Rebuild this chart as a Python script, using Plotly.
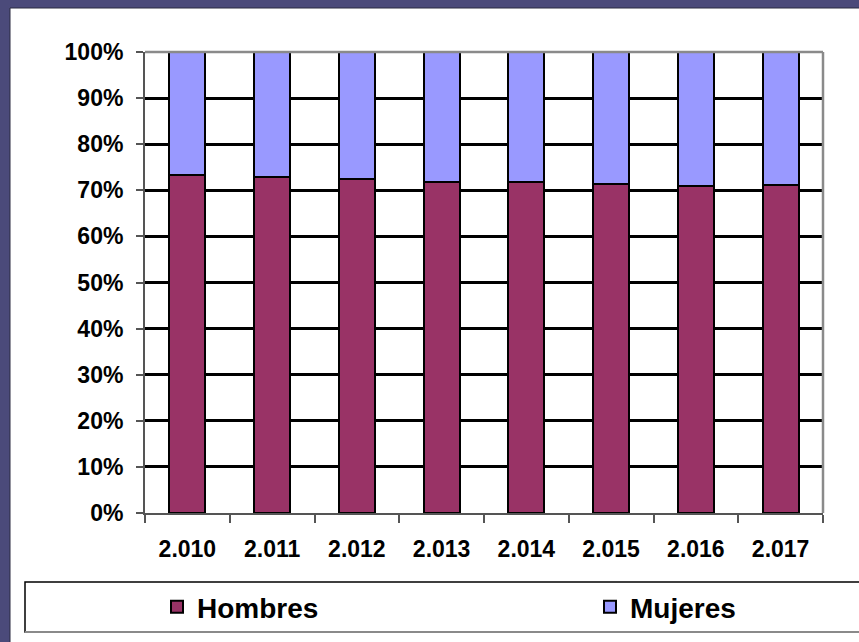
import plotly.graph_objects as go

years = ["2.010", "2.011", "2.012", "2.013", "2.014", "2.015", "2.016", "2.017"]
hombres = [0.734, 0.729, 0.724, 0.719, 0.717, 0.714, 0.710, 0.711]
mujeres = [round(1 - h, 3) for h in hombres]
y_ticks = [0, 0.1, 0.2, 0.3, 0.4, 0.5, 0.6, 0.7, 0.8, 0.9, 1.0]
y_labels = ["0%", "10%", "20%", "30%", "40%", "50%", "60%", "70%", "80%", "90%", "100%"]

W, H = 859, 642
L, R, T, B = 145, 36, 52, 129
pw, ph = W - L - R, H - T - B

def px_x(x):
    return (x - L) / pw

def px_y(y):
    return (H - B - y) / ph

FONT = "Liberation Sans, Arial, sans-serif"

fig = go.Figure()
fig.add_trace(go.Bar(name="<b>Hombres</b>", x=years, y=hombres, legend="legend",
                     marker=dict(color="#993366", line=dict(color="black", width=2))))
fig.add_trace(go.Bar(name="<b>Mujeres</b>", x=years, y=mujeres, legend="legend2",
                     marker=dict(color="#9999FF", line=dict(color="black", width=2))))

shapes = [
    # white panel
    dict(type="rect", xref="paper", yref="paper", layer="below",
         x0=px_x(10), x1=px_x(875), y0=px_y(660), y1=px_y(8),
         fillcolor="white", line=dict(color="#2a2a40", width=1)),
    # legend box
    dict(type="rect", xref="paper", yref="paper", layer="above",
         x0=px_x(25), x1=px_x(875), y0=px_y(632), y1=px_y(582),
         fillcolor="rgba(0,0,0,0)", line=dict(color="black", width=1.5)),
    dict(type="line", xref="paper", yref="paper", layer="above",
         x0=px_x(25), x1=px_x(875), y0=px_y(632), y1=px_y(632),
         line=dict(color="#8a8a8a", width=2)),
    # top and right plot border
    dict(type="line", xref="paper", yref="paper", layer="above",
         x0=0, x1=1, y0=1, y1=1, line=dict(color="#8a8a8a", width=2.5)),
    dict(type="line", xref="paper", yref="paper", layer="above",
         x0=1, x1=1, y0=0, y1=1, line=dict(color="#8a8a8a", width=2.5)),
]

legend_common = dict(orientation="h", yanchor="middle", y=px_y(607), xanchor="left",
                     font=dict(family=FONT, size=28, color="black"),
                     bgcolor="rgba(0,0,0,0)", borderwidth=0)

fig.update_layout(
    width=W, height=H,
    margin=dict(l=L, r=R, t=T, b=B, pad=0, autoexpand=False),
    paper_bgcolor="#4b4a7a",
    plot_bgcolor="white",
    barmode="stack",
    bargap=0.575,
    font=dict(family=FONT, color="black"),
    shapes=shapes,
    showlegend=True,
    legend=dict(x=px_x(157), **legend_common),
    legend2=dict(x=px_x(590), **legend_common),
    xaxis=dict(type="category", showgrid=False, showline=True, linecolor="#555555",
               linewidth=2, ticks="outside", tickson="boundaries", ticklen=8,
               tickcolor="#555555", tickwidth=1.5,
               tickfont=dict(family=FONT, size=23, color="black"),
               ticklabelstandoff=14,
               tickvals=years, ticktext=["<b>%s</b>" % y for y in years]),
    yaxis=dict(range=[0, 1], tickvals=y_ticks, ticktext=["<b>%s</b>" % t for t in y_labels],
               showgrid=True, gridcolor="black", gridwidth=3,
               showline=True, linecolor="#555555", linewidth=2,
               ticks="outside", ticklen=7, tickcolor="#555555", tickwidth=1.5,
               tickfont=dict(family=FONT, size=23, color="black"),
               ticklabelstandoff=8, zeroline=False),
)

fig.write_html("out.html",
               config={"displayModeBar": False},
               post_script="document.body.style.margin='0';document.body.style.overflow='hidden';")
